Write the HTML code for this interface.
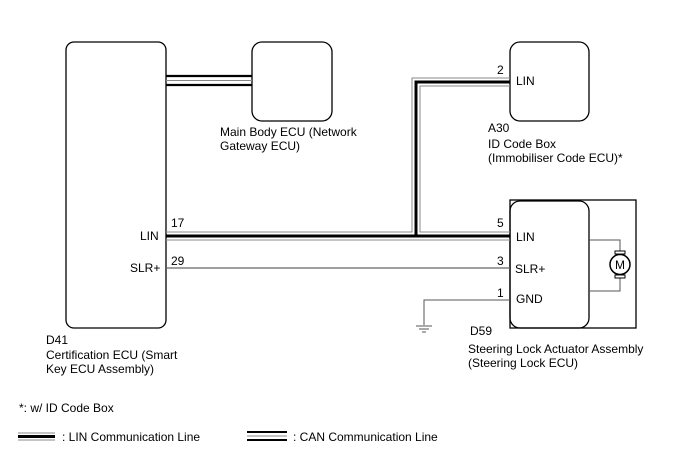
<!DOCTYPE html>
<html><head><style>
body{margin:0;background:#fff;}
svg text{font-family:"Liberation Sans",sans-serif;font-size:12px;fill:#000;}
</style></head><body>
<svg width="688" height="463" viewBox="0 0 688 463" xmlns="http://www.w3.org/2000/svg">
<g fill="none" stroke="#000" stroke-width="1.3">
<rect x="66" y="42" width="100" height="286" rx="8"/>
<rect x="252" y="42" width="80" height="79" rx="10"/>
<rect x="510" y="42" width="79" height="79" rx="10"/>
<rect x="510" y="200" width="126" height="128"/>
<rect x="510" y="201" width="79" height="127" rx="10"/>
</g>
<!-- CAN line -->
<line x1="166" y1="76" x2="252" y2="76" stroke="#000" stroke-width="2.2"/>
<line x1="166" y1="80.5" x2="252" y2="80.5" stroke="#888" stroke-width="1"/>
<line x1="166" y1="85" x2="252" y2="85" stroke="#000" stroke-width="2.2"/>
<!-- LIN lines -->
<g fill="none">
<path d="M166 232 H412 V78 H510" stroke="#888" stroke-width="1"/>
<path d="M166 236 H416 V82 H510" stroke="#000" stroke-width="3"/>
<path d="M416 236 H510" stroke="#000" stroke-width="3"/>
<path d="M166 240 H510" stroke="#888" stroke-width="1"/>
<path d="M510 232 H420 V86 H510" stroke="#888" stroke-width="1"/>
</g>
<line x1="166" y1="268" x2="510" y2="268" stroke="#666" stroke-width="1.2"/>
<path d="M510 300 H424 V325" fill="none" stroke="#555" stroke-width="1"/>
<line x1="416" y1="326" x2="432" y2="326" stroke="#555"/>
<line x1="419" y1="329" x2="429" y2="329" stroke="#555"/>
<line x1="422" y1="332" x2="426" y2="332" stroke="#555"/>
<!-- motor -->
<path d="M589 240 H620 V252 M620 277 V291 H589" fill="none" stroke="#555"/>
<rect x="615" y="251" width="10" height="3" fill="#fff" stroke="#000"/>
<rect x="615" y="275" width="10" height="3" fill="#fff" stroke="#000"/>
<circle cx="620" cy="264.5" r="10" fill="#fff" stroke="#000" stroke-width="1.5"/>
<text x="620" y="269" text-anchor="middle">M</text>
<text x="220" y="136">Main Body ECU (Network</text>
<text x="220" y="150">Gateway ECU)</text>
<text x="488" y="132">A30</text>
<text x="488" y="148">ID Code Box</text>
<text x="488" y="162">(Immobiliser Code ECU)*</text>
<text x="516" y="85">LIN</text>
<text x="497" y="74">2</text>
<text x="171" y="227">17</text>
<text x="171" y="265">29</text>
<text x="140" y="240">LIN</text>
<text x="130" y="272">SLR+</text>
<text x="497" y="227">5</text>
<text x="497" y="265">3</text>
<text x="497" y="297">1</text>
<text x="516" y="241">LIN</text>
<text x="515" y="273">SLR+</text>
<text x="516" y="303">GND</text>
<text x="470" y="335">D59</text>
<text x="468" y="353">Steering Lock Actuator Assembly</text>
<text x="468" y="367">(Steering Lock ECU)</text>
<text x="46" y="344">D41</text>
<text x="46" y="359">Certification ECU (Smart</text>
<text x="46" y="373">Key ECU Assembly)</text>
<text x="19" y="412">*: w/ ID Code Box</text>
<line x1="18" y1="433" x2="55" y2="433" stroke="#888"/>
<line x1="18" y1="436.5" x2="55" y2="436.5" stroke="#000" stroke-width="3"/>
<line x1="18" y1="440" x2="55" y2="440" stroke="#888"/>
<text x="62" y="441">: LIN Communication Line</text>
<line x1="247" y1="432" x2="287" y2="432" stroke="#000" stroke-width="2"/>
<line x1="247" y1="436" x2="287" y2="436" stroke="#888"/>
<line x1="247" y1="440" x2="287" y2="440" stroke="#000" stroke-width="2"/>
<text x="293" y="441">: CAN Communication Line</text>
</svg>
</body></html>
